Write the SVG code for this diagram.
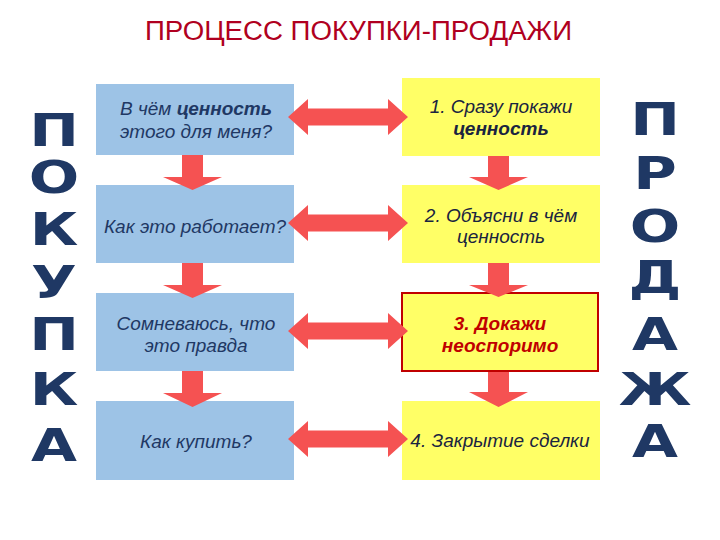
<svg xmlns="http://www.w3.org/2000/svg" width="720" height="540" viewBox="0 0 720 540">
<style>
.bg{fill:#ffffff}
.blue{fill:#9DC3E6}
.yellow{fill:#FFFF66}
.arrow{fill:#F55252}
.t{font-family:"Liberation Sans",Arial,sans-serif;font-style:italic;font-size:19px;fill:#1F3864;text-anchor:middle}
.tr{font-family:"Liberation Sans",Arial,sans-serif;font-style:italic;font-size:19px;fill:#1a2440;text-anchor:middle}
.b{font-weight:bold}
.red{fill:#C00000;font-weight:bold}
.big{font-family:"DejaVu Sans",Verdana,sans-serif;font-weight:bold;font-size:44px;fill:#1F3864;text-anchor:middle}
.title{font-family:"Liberation Sans",Arial,sans-serif;font-size:27px;fill:#B00020}
</style>
<rect class="bg" x="0" y="0" width="720" height="540"/>
<text class="title" x="145" y="40" textLength="427" lengthAdjust="spacingAndGlyphs">ПРОЦЕСС ПОКУПКИ-ПРОДАЖИ</text>

<g id="buy-letters">
<text class="big" transform="translate(54,146) scale(1.35,1)">П</text>
<text class="big" transform="translate(54,193) scale(1.35,1)">О</text>
<text class="big" transform="translate(54,245) scale(1.35,1)">К</text>
<text class="big" transform="translate(54,298) scale(1.35,1)">У</text>
<text class="big" transform="translate(54,350) scale(1.35,1)">П</text>
<text class="big" transform="translate(54,405) scale(1.35,1)">К</text>
<text class="big" transform="translate(54,461) scale(1.35,1)">А</text>
</g>
<g id="sell-letters">
<text class="big" transform="translate(655,135) scale(1.35,1)">П</text>
<text class="big" transform="translate(655,189) scale(1.35,1)">Р</text>
<text class="big" transform="translate(655,242) scale(1.35,1)">О</text>
<text class="big" transform="translate(655,293) scale(1.35,1)">Д</text>
<text class="big" transform="translate(655,350) scale(1.35,1)">А</text>
<text class="big" transform="translate(655,405) scale(1.35,1)">Ж</text>
<text class="big" transform="translate(655,457) scale(1.35,1)">А</text>
</g>

<g id="buy1"><rect class="blue" x="96" y="84" width="198" height="71"/>
<text class="t" x="196" y="115">В чём <tspan class="b">ценность</tspan></text>
<text class="t" x="196" y="138">этого для меня?</text></g>
<g id="buy2"><rect class="blue" x="96" y="185" width="198" height="78"/>
<text class="t" x="195" y="233">Как это работает?</text></g>
<g id="buy3"><rect class="blue" x="96" y="293" width="198" height="78"/>
<text class="t" x="196" y="330">Сомневаюсь, что</text>
<text class="t" x="196" y="352">это правда</text></g>
<g id="buy4"><rect class="blue" x="96" y="401" width="198" height="79"/>
<text class="t" x="196" y="448">Как купить?</text></g>

<g id="sell1"><rect class="yellow" x="402" y="78" width="198" height="78"/>
<text class="tr" x="501" y="113">1. Сразу покажи</text>
<text class="tr b" x="501" y="135">ценность</text></g>
<g id="sell2"><rect class="yellow" x="402" y="185" width="198" height="78"/>
<text class="tr" x="501" y="222">2. Объясни в чём</text>
<text class="tr" x="501" y="243">ценность</text></g>
<g id="sell3"><rect class="yellow" x="402" y="293" width="196" height="78" stroke="#C00000" stroke-width="2"/>
<text class="tr red" x="500" y="330">3. Докажи</text>
<text class="tr red" x="500" y="352">неоспоримо</text></g>
<g id="sell4"><rect class="yellow" x="402" y="401" width="198" height="79"/>
<text class="tr" x="500" y="447">4. Закрытие сделки</text></g>

<g id="connectors">
<path class="arrow" d="M288,117 L308,99 L308,108.5 L388,108.5 L388,99 L408,117 L388,135 L388,125.5 L308,125.5 L308,135 Z"/>
<path class="arrow" d="M288,223 L308,205 L308,214.5 L388,214.5 L388,205 L408,223 L388,241 L388,231.5 L308,231.5 L308,241 Z"/>
<path class="arrow" d="M288,331 L308,313 L308,322.5 L388,322.5 L388,313 L408,331 L388,349 L388,339.5 L308,339.5 L308,349 Z"/>
<path class="arrow" d="M288,439 L308,421 L308,430.5 L388,430.5 L388,421 L408,439 L388,457 L388,447.5 L308,447.5 L308,457 Z"/>
<path class="arrow" d="M182,155 L203,155 L203,177 L222,177 L192.5,190 L163,177 L182,177 Z"/>
<path class="arrow" d="M182,263 L203,263 L203,285 L222,285 L192.5,298 L163,285 L182,285 Z"/>
<path class="arrow" d="M182,371 L203,371 L203,393 L222,393 L192.5,407 L163,393 L182,393 Z"/>
<path class="arrow" d="M488,156 L509,156 L509,177 L528,177 L498.5,190 L469,177 L488,177 Z"/>
<path class="arrow" d="M488,263 L509,263 L509,285 L528,285 L498.5,297 L469,285 L488,285 Z"/>
<path class="arrow" d="M488,372 L509,372 L509,392 L528,392 L498.5,407 L469,392 L488,392 Z"/>
</g>
</svg>
